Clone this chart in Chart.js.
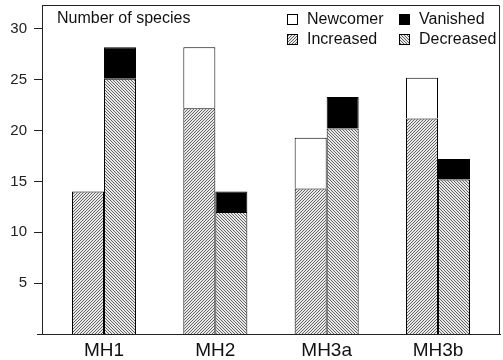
<!DOCTYPE html>
<html>
<head>
<meta charset="utf-8">
<script src="https://cdn.jsdelivr.net/npm/chart.js@4"></script>
<style>
  html, body { margin: 0; padding: 0; background: #fff; }
  #wrap { width: 503px; height: 360px; }
</style>
</head>
<body>
<div id="wrap"><canvas id="chart" width="503" height="360"></canvas></div>
<script>
// values
const sites = ['MH1', 'MH2', 'MH3a', 'MH3b'];
const increased = [14, 22.2, 14.3, 21.2];
const newcomer = [0, 6, 5, 4];
const decreased = [25.1, 12, 20.2, 15.2];
const vanished = [3.1, 2, 3.1, 2];
const yTicks = [5, 10, 15, 20, 25, 30];

const FONT = "'Liberation Sans', Arial, Helvetica, sans-serif";

// small diagonal hatch fills
function hatch(dir) {
  const n = 3;
  const c = document.createElement('canvas');
  c.width = n; c.height = n;
  const g = c.getContext('2d');
  g.fillStyle = '#e8e8e8';
  g.fillRect(0, 0, n, n);
  g.fillStyle = '#666';
  for (let i = 0; i < n; i++) {
    g.fillRect(i, dir === '/' ? n - 1 - i : i, 1, 1);
  }
  return g.createPattern(c, 'repeat');
}
const incFill = hatch('/');
const decFill = hatch('\\');

const pts = arr => arr.map((v, i) => ({ x: i, y: v }));

// legend + inner label + frame
const extras = {
  id: 'extras',
  afterDraw(chart) {
    const { ctx, chartArea: a } = chart;
    ctx.save();
    ctx.strokeStyle = '#222';
    ctx.lineWidth = 1;
    ctx.beginPath();
    ctx.moveTo(a.left, a.top + 0.5);
    ctx.lineTo(a.right - 0.5, a.top + 0.5);
    ctx.lineTo(a.right - 0.5, a.bottom);
    ctx.moveTo(a.left - 5, a.bottom + 0.5);
    ctx.lineTo(a.left, a.bottom + 0.5);
    ctx.stroke();

    ctx.fillStyle = '#111';
    ctx.font = '16px ' + FONT;
    ctx.textBaseline = 'middle';
    ctx.textAlign = 'left';
    ctx.fillText('Number of species', a.left + 15, 19);

    const items = [
      ['Newcomer', '#fff', 287, 20],
      ['Vanished', '#000', 399, 20],
      ['Increased', incFill, 287, 40],
      ['Decreased', decFill, 399, 40]
    ];
    items.forEach(([label, fill, x, y]) => {
      ctx.fillStyle = fill;
      ctx.fillRect(x + 0.5, y - 5.5, 10, 10);
      ctx.strokeStyle = '#000';
      ctx.strokeRect(x + 0.5, y - 5.5, 10, 10);
      ctx.fillStyle = '#111';
      ctx.fillText(label, x + 20, y);
    });
    ctx.restore();
  }
};

new Chart(document.getElementById('chart'), {
  type: 'bar',
  data: {
    datasets: [
      { label: 'Increased', data: pts(increased), stack: 'gain', backgroundColor: incFill },
      { label: 'Newcomer', data: pts(newcomer), stack: 'gain', backgroundColor: '#fff' },
      { label: 'Decreased', data: pts(decreased), stack: 'loss', backgroundColor: decFill },
      { label: 'Vanished', data: pts(vanished), stack: 'loss', backgroundColor: '#000' }
    ]
  },
  options: {
    responsive: false,
    animation: false,
    layout: { padding: { top: 5, right: 3, left: 0, bottom: 0 } },
    datasets: {
      bar: {
        borderColor: '#000',
        borderWidth: 1,
        borderSkipped: 'start',
        categoryPercentage: 0.575,
        barPercentage: 1.0
      }
    },
    plugins: { legend: { display: false }, tooltip: { enabled: false } },
    scales: {
      x: {
        type: 'linear',
        stacked: true,
        offset: false,
        min: -0.557,
        max: 3.557,
        grid: { display: false, drawTicks: false },
        border: { display: true, color: '#222', width: 1 },
        afterBuildTicks: s => { s.ticks = sites.map((_, i) => ({ value: i })); },
        afterFit: s => { s.height = 26; s.paddingLeft = 0; s.paddingRight = 0; },
        ticks: {
          autoSkip: false,
          maxRotation: 0,
          padding: 5,
          color: '#111',
          font: { family: FONT, size: 19 },
          callback: v => sites[v]
        }
      },
      y: {
        stacked: true,
        min: 0,
        max: 32.35,
        grid: { drawOnChartArea: false, drawTicks: true, tickLength: 8, color: '#222' },
        border: { display: true, color: '#222', width: 1 },
        afterBuildTicks: s => { s.ticks = yTicks.map(v => ({ value: v })); },
        afterFit: s => { s.width = 42; s.paddingTop = 0; s.paddingBottom = 0; },
        ticks: {
          padding: 7,
          color: '#222',
          font: { family: FONT, size: 15 }
        }
      }
    }
  },
  plugins: [extras]
});
</script>
</body>
</html>
